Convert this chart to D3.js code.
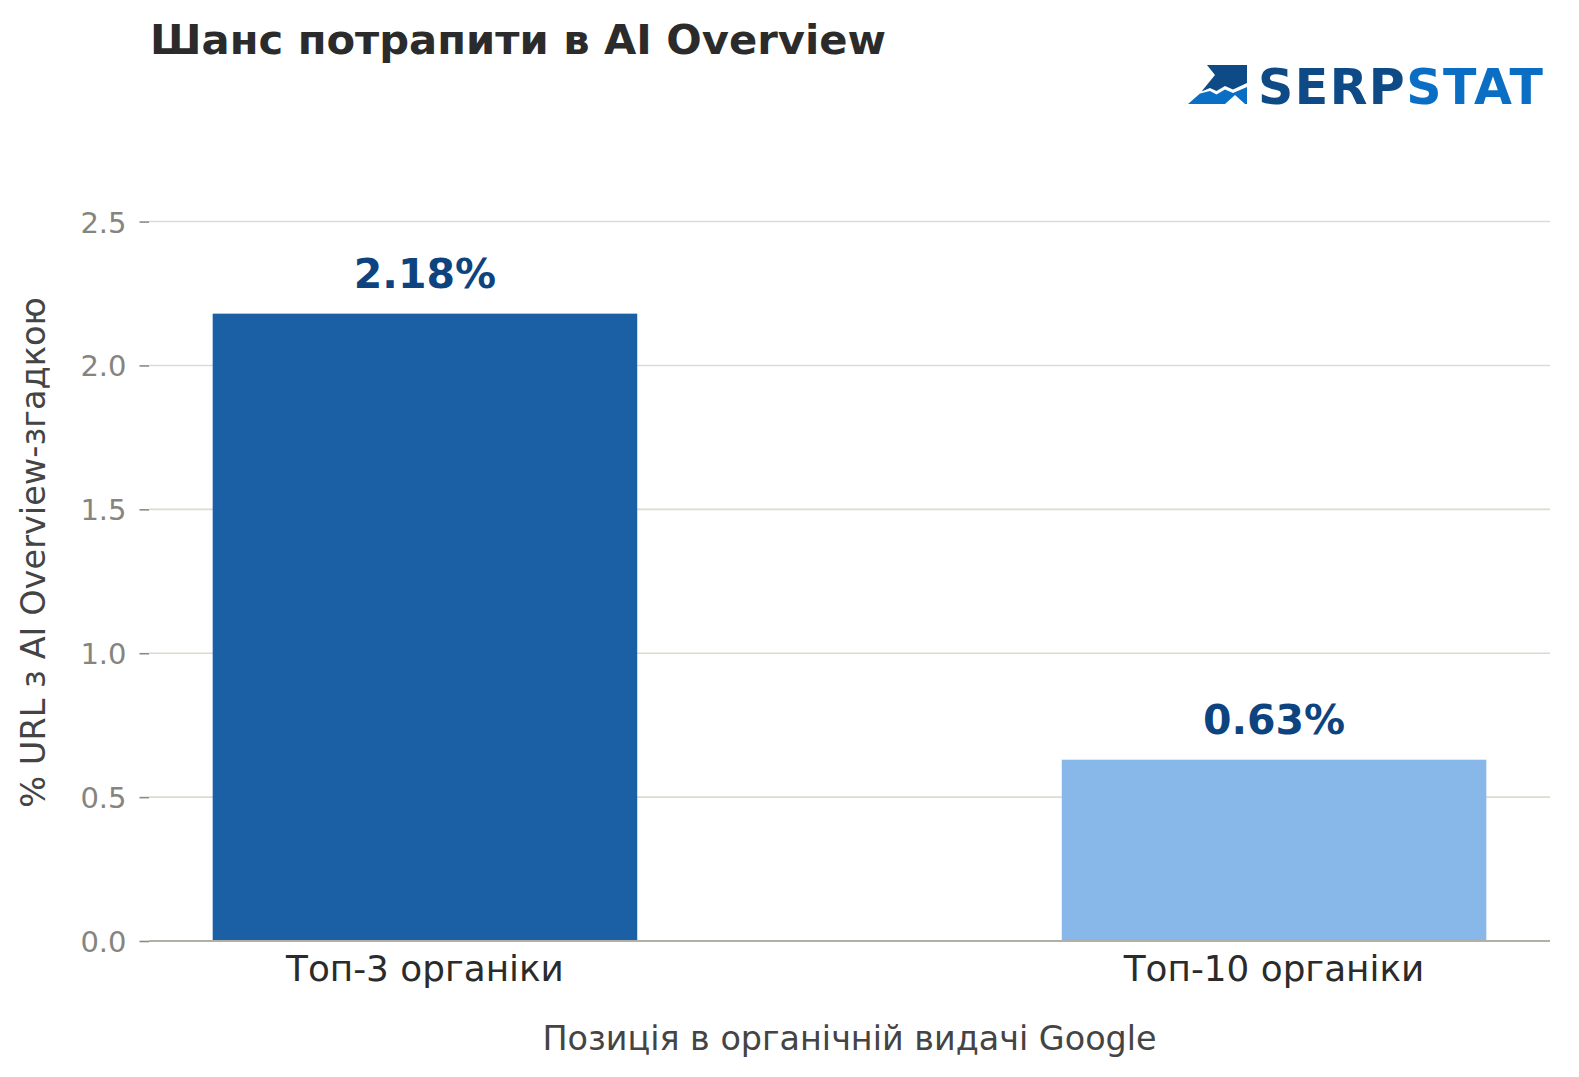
<!DOCTYPE html>
<html>
<head>
  <meta charset="utf-8">
  <title>Шанс потрапити в AI Overview</title>
  <script src="https://d3js.org/d3.v7.min.js"></script>
  <style>
    body { margin: 0; background: #fff; }
    text { font-family: "DejaVu Sans", sans-serif; }
  </style>
</head>
<body>
<div id="chart"></div>
<script type="text/javascript">
  let w = 1579;
  let h = 1077;

  let categories = ['Топ-3 органіки', 'Топ-10 органіки'];
  let values = [2.18, 0.63];
  let valueLabels = ['2.18%', '0.63%'];
  let barColors = ['#1b5fa5', '#88b7ea'];
  let yTicks = [0, 0.5, 1.0, 1.5, 2.0, 2.5];

  let plotLeft = 149, plotRight = 1550, plotBottom = 941, plotTop = 164;

  // bars sit at 0 and 1, width 0.5, with matplotlib-like margins
  let xScale = d3.scaleLinear()
                .domain([-0.325, 1.325])
                .range([plotLeft, plotRight]);

  let yScale = d3.scaleLinear()
                .domain([0, 2.7])
                .range([plotBottom, plotTop]);

  let svg = d3.select('#chart')
              .append('svg')
              .attr('width', w)
              .attr('height', h);

  // grid lines
  svg.append('g')
     .selectAll('line')
     .data(yTicks.filter(d => d > 0))
     .enter()
     .append('line')
     .attr('x1', plotLeft)
     .attr('x2', plotRight)
     .attr('y1', d => yScale(d))
     .attr('y2', d => yScale(d))
     .attr('stroke', '#dcdbd2')
     .attr('stroke-width', 1.6);

  // y axis: ticks and labels only, no spine
  let yAxis = d3.axisLeft(yScale)
                .tickValues(yTicks)
                .tickFormat(d3.format('.1f'))
                .tickSize(9.5)
                .tickPadding(13);

  let gy = svg.append('g')
              .attr('transform', `translate(${plotLeft},0)`)
              .call(yAxis);
  gy.select('.domain').remove();
  gy.selectAll('.tick line')
    .attr('stroke', '#8a8a84')
    .attr('stroke-width', 1.6);
  gy.selectAll('.tick text')
    .attr('fill', '#85857f')
    .attr('font-size', '29px')
    .attr('font-family', 'DejaVu Sans')
    .attr('dy', '0.36em');

  // bars
  svg.selectAll('rect.bar')
     .data(values)
     .enter()
     .append('rect')
     .attr('class', 'bar')
     .attr('x', (d, i) => xScale(i - 0.25))
     .attr('width', (d, i) => xScale(i + 0.25) - xScale(i - 0.25))
     .attr('y', d => yScale(d))
     .attr('height', d => yScale(0) - yScale(d))
     .attr('fill', (d, i) => barColors[i]);

  // bottom spine
  svg.append('line')
     .attr('x1', plotLeft)
     .attr('x2', plotRight)
     .attr('y1', yScale(0))
     .attr('y2', yScale(0))
     .attr('stroke', '#b0b0a8')
     .attr('stroke-width', 2);

  // value labels
  svg.selectAll('text.val')
     .data(values)
     .enter()
     .append('text')
     .attr('class', 'val')
     .attr('x', (d, i) => xScale(i))
     .attr('y', d => yScale(d) - 26)
     .attr('text-anchor', 'middle')
     .attr('font-size', '41px')
     .attr('font-weight', 'bold')
     .attr('fill', '#0d4480')
     .text((d, i) => valueLabels[i]);

  // category labels
  svg.selectAll('text.cat')
     .data(categories)
     .enter()
     .append('text')
     .attr('class', 'cat')
     .attr('x', (d, i) => xScale(i))
     .attr('y', 981)
     .attr('text-anchor', 'middle')
     .attr('font-size', '35.8px')
     .attr('fill', '#2b2b2b')
     .text(d => d);

  // axis titles
  svg.append('text')
     .attr('x', (plotLeft + plotRight) / 2)
     .attr('y', 1050)
     .attr('text-anchor', 'middle')
     .attr('font-size', '33.4px')
     .attr('fill', '#444444')
     .text('Позиція в органічній видачі Google');

  svg.append('text')
     .attr('transform', `translate(45,${(plotTop + plotBottom) / 2}) rotate(-90)`)
     .attr('text-anchor', 'middle')
     .attr('font-size', '33.6px')
     .attr('fill', '#444444')
     .text('% URL з AI Overview-згадкою');

  // title
  svg.append('text')
     .attr('x', 150)
     .attr('y', 54)
     .attr('font-size', '41.7px')
     .attr('font-weight', 'bold')
     .attr('fill', '#2b2b2b')
     .text('Шанс потрапити в AI Overview');

  // Serpstat logo
  let logo = svg.append('g').attr('transform', 'translate(1188,64)');
  logo.append('polygon')
      .attr('points', '19,1 59,1 59,19 45,25.5 37,22 28.5,27 22,24 13.5,27.5 27,11')
      .attr('fill', '#0e4a86');
  logo.append('polygon')
      .attr('points', '0,40 12,29.5 22,27 28.5,30.5 37,25.5 45,29 59,23 59,40 57,40 47,31 37,40')
      .attr('fill', '#0a6fc4');

  let logoText = svg.append('text')
                    .attr('x', 1258)
                    .attr('y', 104)
                    .attr('font-family', 'Roboto')
                    .attr('font-weight', 900)
                    .attr('font-size', '49px')
                    .attr('textLength', 285)
                    .attr('lengthAdjust', 'spacing');
  logoText.append('tspan').attr('fill', '#0e4a86').text('SERP');
  logoText.append('tspan').attr('fill', '#0a6fc4').text('STAT');
</script>
</body>
</html>
